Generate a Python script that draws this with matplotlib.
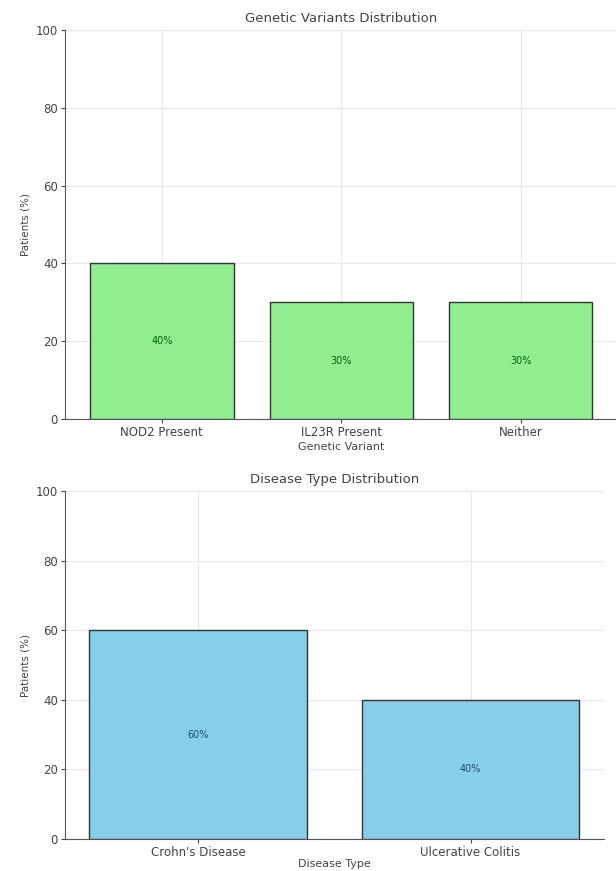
import matplotlib
matplotlib.use("Agg")
import matplotlib.pyplot as plt

# genetic variant shares
variants = ["NOD2 Present", "IL23R Present", "Neither"]
variant_pct = [40, 30, 30]

# disease type shares
diseases = ["Crohn's Disease", "Ulcerative Colitis"]
disease_pct = [60, 40]

plt.rcParams['font.family'] = ['DejaVu Sans']
plt.rcParams['font.size'] = 8.5

fig = plt.figure(figsize=(6.16, 8.71), dpi=100)
ax1 = fig.add_axes([0.1055, 0.519, 0.897, 0.4465])
ax2 = fig.add_axes([0.1055, 0.0367, 0.875, 0.3995])


def draw(ax, cats, vals, color, txtcolor, title, xlabel, lpad):
    bars = ax.bar(cats, vals, color=color, edgecolor="#333333", linewidth=1.0, zorder=3)
    for b, v in zip(bars, vals):
        ax.text(b.get_x() + b.get_width() / 2, v / 2, f"{v}%",
                ha="center", va="center", fontsize=7, color=txtcolor, zorder=4)
    ax.set_ylim(0, 100)
    ax.set_yticks(range(0, 101, 20))
    ax.set_title(title, fontsize=9.5, color="#444444", pad=6)
    ax.set_xlabel(xlabel, fontsize=8, color="#444444", labelpad=lpad)
    ax.set_ylabel("Patients (%)", fontsize=7.5, color="#444444")
    ax.grid(True, color="#e8e8e8", linewidth=0.8, zorder=0)
    for s in ["top", "right"]:
        ax.spines[s].set_visible(False)
    for s in ["left", "bottom"]:
        ax.spines[s].set_color("#555555")
    ax.tick_params(colors="#444444", length=3, labelsize=8.5, pad=2)


draw(ax1, variants, variant_pct, "lightgreen", "darkgreen",
     "Genetic Variants Distribution", "Genetic Variant", 2)
draw(ax2, diseases, disease_pct, "skyblue", "#1f4e79",
     "Disease Type Distribution", "Disease Type", 0)

fig.savefig("out.png", dpi=100)
